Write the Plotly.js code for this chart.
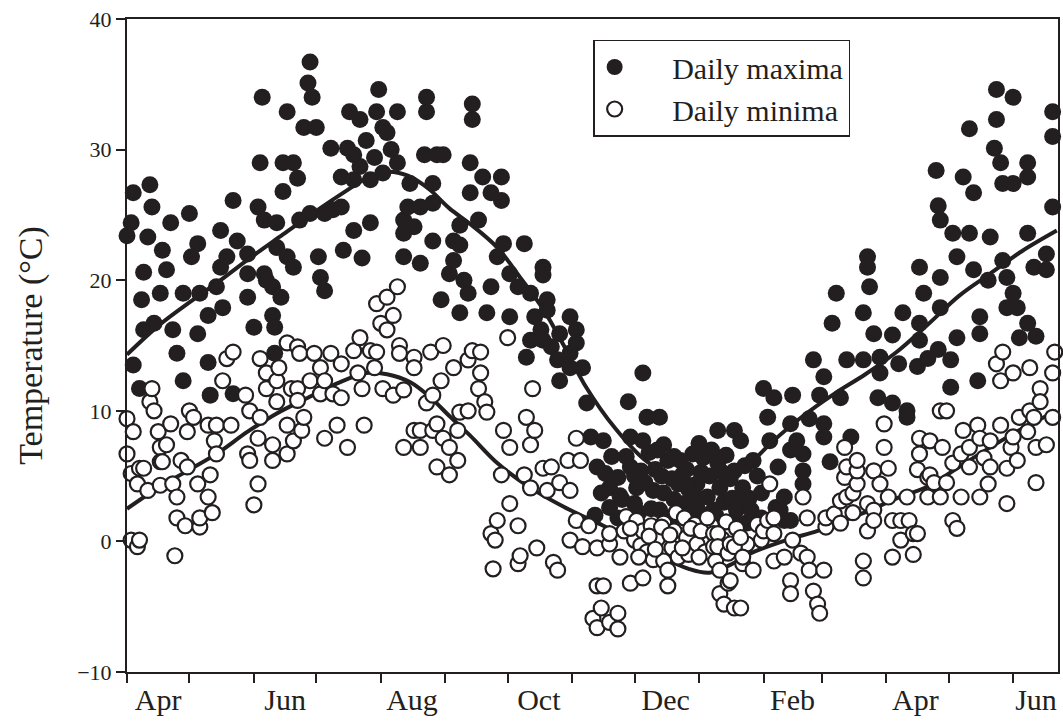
<!DOCTYPE html>
<html><head><meta charset="utf-8">
<script src="https://cdn.plot.ly/plotly-3.0.1.min.js"></script>
<style>html,body{margin:0;padding:0;background:#fff}#chart{width:1063px;height:721px}</style>
</head><body><div id="chart"></div>
<script>
// Day offsets counted from 1 April (first year); values in °C
const maxDay = [
 0,2,3,3,6,7,8,8,10,11,12,13,16,17,19,21,22,24,27,27,30,31,34,34,35,39,39,40,43,45,45,46,48,51,51,53,58,58,58,61,
 63,64,65,66,66,67,70,70,71,71,72,72,74,75,75,77,77,80,80,82,83,85,87,88,88,89,91,92,93,95,95,
 98,99,103,103,104,106,107,109,109,109,112,112,113,115,117,117,119,120,121,
 123,123,125,127,130,130,133,133,133,135,136,138,141,141,143,144,144,147,147,147,149,151,152,
 155,157,157,160,160,160,162,164,165,165,166,166,169,171,173,175,175,178,180,180,181,
 184,184,188,191,192,194,194,196,199,200,200,200,202,202,204,207,208,208,213,213,213,
 216,216,219,221,223,226,228,229,232,232,236,236,241,242,242,244,
 245,248,248,250,253,256,256,258,258,260,261,265,268,271,272,274,274,
 230,238,240,247,251,254,262,263,266,267,270,276,278,280,281,287,288,290,294,297,
 225,233,237,244,246,249,252,255,257,259,263,264,269,273,275,283,286,291,299,303,
 277,279,282,284,284,285,292,292,292,293,295,296,298,300,301,305,305,
 306,308,309,311,312,313,314,316,316,319,319,319,320,322,325,325,325,328,330,333,335,335,335,338,
 339,341,343,346,348,354,354,356,356,357,359,361,362,362,
 368,368,371,373,375,375,380,381,381,381,383,385,389,390,390,391,391,391,396,396,
 397,399,399,402,405,405,407,407,409,410,410,414,415,417,418,418,420,421,421,423,423,
 426,426,426,428,429,433,433,433,433,436,437,442,442,445,445,445
];
const maxTemp = [
 23.4,24.4,26.7,13.5,11.7,18.5,20.6,16.2,23.3,27.3,25.6,16.7,19,22.3,20.8,24.4,16.2,14.4,19,12.3,25.1,21.8,22.8,15.9,19,17.3,13.7,11.2,19.5,23.8,21,17.9,21.8,26.1,11.3,23,22,20.5,18.7,16.4,
 25.6,29,34,24.6,20.5,20,19.5,17.3,16.4,14.4,24.4,22.5,18.7,29,26.8,32.9,21.8,29,21,27.8,24.6,31.7,35.1,36.7,25.1,34,31.7,21.8,20.2,25.1,19.2,
 30.1,25.4,25.6,27.9,22.3,30.1,32.9,29.6,27.7,23.8,32.3,28.7,21.7,30.7,27.7,24.4,29.4,32.9,34.6,
 31.7,28.2,31.3,30,32.9,29,24.6,23.6,21.8,25.6,27.4,24.1,25.6,21.3,29.6,34,32.9,27.4,23,25.9,29.6,18.5,29.6,
 20.5,23,21.5,24.2,22.7,17.5,20,19,29,26.7,33.5,32.3,24.6,27.9,17.5,26.7,19.5,21.8,27.9,26.1,22.8,
 20.5,17.2,19.5,22.8,14.1,19,15.4,17.2,16.2,21,20.4,15.4,18.5,17.7,14.9,13.9,15.9,12.3,17.2,14.4,13.3,
 16.2,15.2,13.3,10.6,8,5.7,3.7,7.7,4.1,2.6,4.9,1.8,10.7,8,5.7,2.9,
 4.1,12.9,7.7,9.5,3.9,9.5,2.4,7.4,3.7,6.2,1.8,4.4,2.9,2.1,6.7,4.4,2.6,
 5.2,3.2,6.5,5.4,6.8,5.5,4.8,3.2,6.2,5.1,4,5.3,2,5,7,3,6.6,4.8,3.2,5.8,
 2,6.5,3.5,5,2.2,4.5,2.5,7,5,1.2,6.5,2,5.5,3.5,7.5,2,5.3,3.3,3.3,5,
 6.4,3.4,2.4,8.5,6,4.1,8.5,5.4,1.6,2.4,7.7,4.1,1.4,2.4,6.2,3.7,1.8,
 11.7,9.5,7.7,11,2.6,5.7,2.4,3.4,1.6,9,7,1.6,11.2,7.7,6.7,5.4,4.4,9.4,13.9,11.2,12.6,9,8,6.1,
 16.7,19,11,13.9,8,13.9,17.5,21.8,21,19.5,15.9,11,14.1,12.9,
 15.8,10.6,13.6,17.5,10,9.5,13.4,21,16.7,15.4,19,14,28.4,25.7,14.7,24.6,20.2,17.9,13.9,11.8,
 23.6,21.8,15.6,27.9,31.6,23.6,26.7,20.8,12.3,17.2,15.9,20,23.3,30.1,34.6,32.3,29,27.4,21.5,20.2,17.9,
 34,27.4,19,17.9,15.6,29,27.9,23.6,16.7,21,15.7,22,20.8,32.9,31,25.6
];
const minDay = [
 0,0,2,2,3,5,5,6,6,8,10,11,12,13,15,16,16,16,17,19,21,22,23,24,24,26,28,29,29,30,
 32,34,35,35,39,39,40,41,42,43,43,46,48,50,51,57,58,59,59,61,
 63,63,64,64,67,67,70,70,72,72,73,77,77,77,79,80,82,82,82,83,84,85,88,90,
 93,93,95,95,98,99,101,103,103,106,109,111,112,113,114,117,119,120,120,
 122,123,125,125,128,128,130,131,131,133,133,138,138,138,141,141,144,146,147,147,149,149,151,152,152,
 155,155,157,159,159,160,164,164,166,169,170,170,172,173,175,176,177,178,180,181,183,
 184,184,188,188,189,191,192,194,194,195,196,197,200,202,204,205,207,208,212,213,213,
 216,216,218,219,222,224,226,226,226,228,229,232,232,232,236,236,237,239,242,244,
 240,245,247,248,248,250,252,253,255,258,258,260,260,262,263,264,265,268,269,270,273,274,278,
 242,246,251,254,257,261,267,271,275,281,283,286,288,293,298,303,
 276,279,282,282,284,284,285,285,287,289,289,290,290,292,292,295,295,296,296,301,305,306,
 308,309,311,311,311,316,319,319,320,324,325,327,327,328,330,332,333,
 335,336,336,340,343,343,345,345,346,346,349,349,351,351,351,354,354,356,356,359,359,359,362,364,364,
 366,366,368,368,372,372,375,376,378,378,380,380,381,381,385,385,386,386,388,391,391,392,394,394,
 397,397,399,401,401,402,405,405,409,410,410,412,414,415,415,418,420,420,421,423,423,425,426,426,
 428,429,433,434,434,436,437,437,439,439,442,445,445,446
];
const minTemp = [
 9.4,6.7,5.2,0.1,8.4,4.4,-0.4,5.6,0.1,5.6,3.9,10.7,11.7,10,8.4,7.2,6.1,4.3,6.1,7.4,9,4.4,-1.1,3.4,1.8,6.2,1.2,5.7,8.4,10,
 9.5,4.4,1.1,1.8,8.9,3.4,5.1,2.2,7.7,8.9,6.7,12.3,14,8.9,14.5,11.2,6.7,10,6.2,2.8,
 7.9,4.4,14,9.5,12.9,11.7,6.2,7.4,12.3,10.7,13.3,15.2,8.9,6.7,11.7,7.7,11.7,10.8,14.9,14.4,8.5,9.5,12.3,14.4,
 13.3,11.3,12.3,7.9,14.4,11.3,8.9,13.6,11,7.2,14.6,12.9,15.6,11.7,8.9,14.6,13.3,14.5,18.2,
 16.7,11.7,18.7,16.2,17.3,11.2,19.5,15,14.4,11.6,7.2,14.1,13.3,8.5,8.5,7.2,10.6,14.5,11.2,8.5,9,5.7,12.3,15,7.9,
 7.2,5.1,13.3,8.5,6.2,9.9,13.9,10,14.6,11.7,14.5,12.9,10.7,9.9,0.6,-2.1,0.1,1.6,5.1,8.5,15.6,
 7.2,2.9,1.2,-1.7,-1.1,5.1,9.5,7.4,4.1,11.7,8.5,-0.5,5.6,3.9,5.7,-1.6,-2.2,4.5,6.2,3.9,0.1,
 7.9,1.6,6.2,-0.4,1.2,-5.9,-0.5,-3.4,-6.6,-5.1,-3.4,-0.2,0.6,-6.2,-5.5,-6.7,-1.2,0.8,-3.2,0.1,
 1.9,1.6,-0.3,0.8,-2.8,-0.8,1.2,-1.4,0.2,1.4,-1.5,-2.2,-3.4,-0.5,0.8,2.2,-1.2,1.8,0.3,-1,1.3,-0.2,-0.8,
 1,-1.2,0.4,-0.6,1.1,0.5,-0.5,1,-1.2,1.2,-1.5,0.2,1.5,1,-0.2,1.3,
 0.8,1.8,0.6,-0.4,0.6,-0.4,-2.2,-4,-4.8,-3.2,-0.9,-0.2,-3,-5.1,-0.4,0.3,-5.1,-1.7,-1.2,-2.2,0.1,0.8,
 1.6,4.4,1.8,-1.5,0.6,-1.2,-3,-4,0.1,-0.9,3.4,1.8,-1.2,-2.2,-3.8,-4.8,-5.5,
 -2.2,1.1,1.8,2.1,3.1,1.4,4.9,7.2,3.4,5.7,3.7,2.2,4.4,5.4,6.2,-1.5,-2.8,0.8,2.9,5.4,2.4,1.6,4.4,9,7.2,
 3.4,5.6,1.6,-1.2,1.6,0.1,3.4,1.6,0.6,-1,5.5,0.6,7.9,6.7,4.9,3.4,7.7,5.1,4.5,10,3.4,7.2,4.5,10,
 6,1.6,1,3.4,6.7,8.5,7.2,5.7,8.9,7.9,3.4,6.4,4.4,7.7,5.7,13.6,12.3,8.9,14.5,5.6,2.9,7.2,12.9,8,
 6.2,9.5,8.4,13.3,10,9.5,7.2,4.5,11.7,10.7,7.4,12.9,9.5,14.5
];
// Smoothed seasonal curves
const maxTrendDay = [0,15,30,45,60,75,90,105,115,125,135,145,155,165,178,190,200,210,220,235,250,265,280,295,310,325,340,355,370,385,400,415,430,447];
const maxTrend    = [14.3,16.5,18.3,20,21.8,23.5,25.2,26.8,27.8,28.3,28,27,25.5,24.3,22.5,20,17.8,15,12,8.6,6.1,4.9,4.8,5.4,7.6,9.6,11.3,12.8,14.5,16.6,18.8,20.5,22.2,23.8];
const minTrendDay = [0,13,29,43,58,72,87,101,115,125,136,146,155,165,178,194,213,229,245,256,270,280,290,300,317,332,343,356,370,385,400,415,430,447];
const minTrend    = [2.5,3.9,5.4,6.7,8.4,9.8,11,12.1,12.9,12.8,12.2,11,9.6,8.1,6,4.1,2.4,1.2,-0.1,-1.1,-2.1,-2.4,-1.8,-0.9,0.1,0.8,1.5,2.3,3.3,4.2,5.7,7.2,8.6,10];

const monthStarts = ['2005-04-01','2005-05-01','2005-06-01','2005-07-01','2005-08-01','2005-09-01','2005-10-01','2005-11-01','2005-12-01','2006-01-01','2006-02-01','2006-03-01','2006-04-01','2006-05-01','2006-06-01'];
const labelDates  = ['2005-04-16','2005-06-16','2005-08-16','2005-10-16','2005-12-16','2006-02-15','2006-04-15','2006-06-12'];
const monthLabels = ['Apr','Jun','Aug','Oct','Dec','Feb','Apr','Jun'];
const yTicks = [-10,0,10,20,30,40];
const seriesNames = ['Daily maxima','Daily minima'];

const DAY0 = Date.UTC(2005,3,1);
const toDate = d => new Date(DAY0 + d*86400000).toISOString().slice(0,10);
const ink = '#231f20';
const pad = '\u00a0\u00a0\u00a0\u00a0\u00a0';

const traces = [
  {type:'scatter', mode:'markers', name:pad+seriesNames[0], x:maxDay.map(toDate), y:maxTemp,
   marker:{size:17, color:ink, line:{width:0}}, cliponaxis:false},
  {type:'scatter', mode:'lines', x:maxTrendDay.map(toDate), y:maxTrend, showlegend:false,
   line:{color:ink, width:4, shape:'spline', smoothing:1}},
  {type:'scatter', mode:'lines', x:minTrendDay.map(toDate), y:minTrend, showlegend:false,
   line:{color:ink, width:4, shape:'spline', smoothing:1}},
  {type:'scatter', mode:'markers', name:pad+seriesNames[1], x:minDay.map(toDate), y:minTemp,
   marker:{size:15, color:'#ffffff', line:{color:ink, width:2.2}}, cliponaxis:false}
];

const layout = {
  width:1063, height:721,
  margin:{l:127, r:5, t:19, b:49, pad:0},
  paper_bgcolor:'#ffffff', plot_bgcolor:'#ffffff',
  font:{family:'"Liberation Serif", "Times New Roman", serif', color:ink},
  showlegend:true,
  legend:{x:0.5007, y:0.9686, xanchor:'left', yanchor:'top', bordercolor:ink, borderwidth:1.5,
          bgcolor:'#ffffff', font:{size:30, color:ink}, itemwidth:30, tracegroupgap:0},
  xaxis:{type:'date', range:['2005-04-01','2006-06-22 14:00'], showline:true, linecolor:ink, linewidth:2,
         mirror:true, showgrid:false, zeroline:false, tickmode:'array', tickvals:labelDates, ticktext:monthLabels,
         ticks:'outside', ticklen:0, tickfont:{size:30, color:ink}, ticklabelstandoff:0,
         minor:{tickmode:'array', tickvals:monthStarts, ticks:'outside', ticklen:9, tickwidth:2, tickcolor:ink, showgrid:false}},
  yaxis:{range:[-10,40], tickmode:'array', tickvals:yTicks, ticks:'outside', ticklen:9, tickwidth:2, tickcolor:ink,
         showline:true, linecolor:ink, linewidth:2, mirror:true, showgrid:false, zeroline:false,
         tickfont:{size:22, color:ink}, title:{text:'Temperature (°C)', font:{size:34, color:ink}, standoff:24}}
};

Plotly.newPlot('chart', traces, layout, {displayModeBar:false, staticPlot:true});
</script>
</body></html>
